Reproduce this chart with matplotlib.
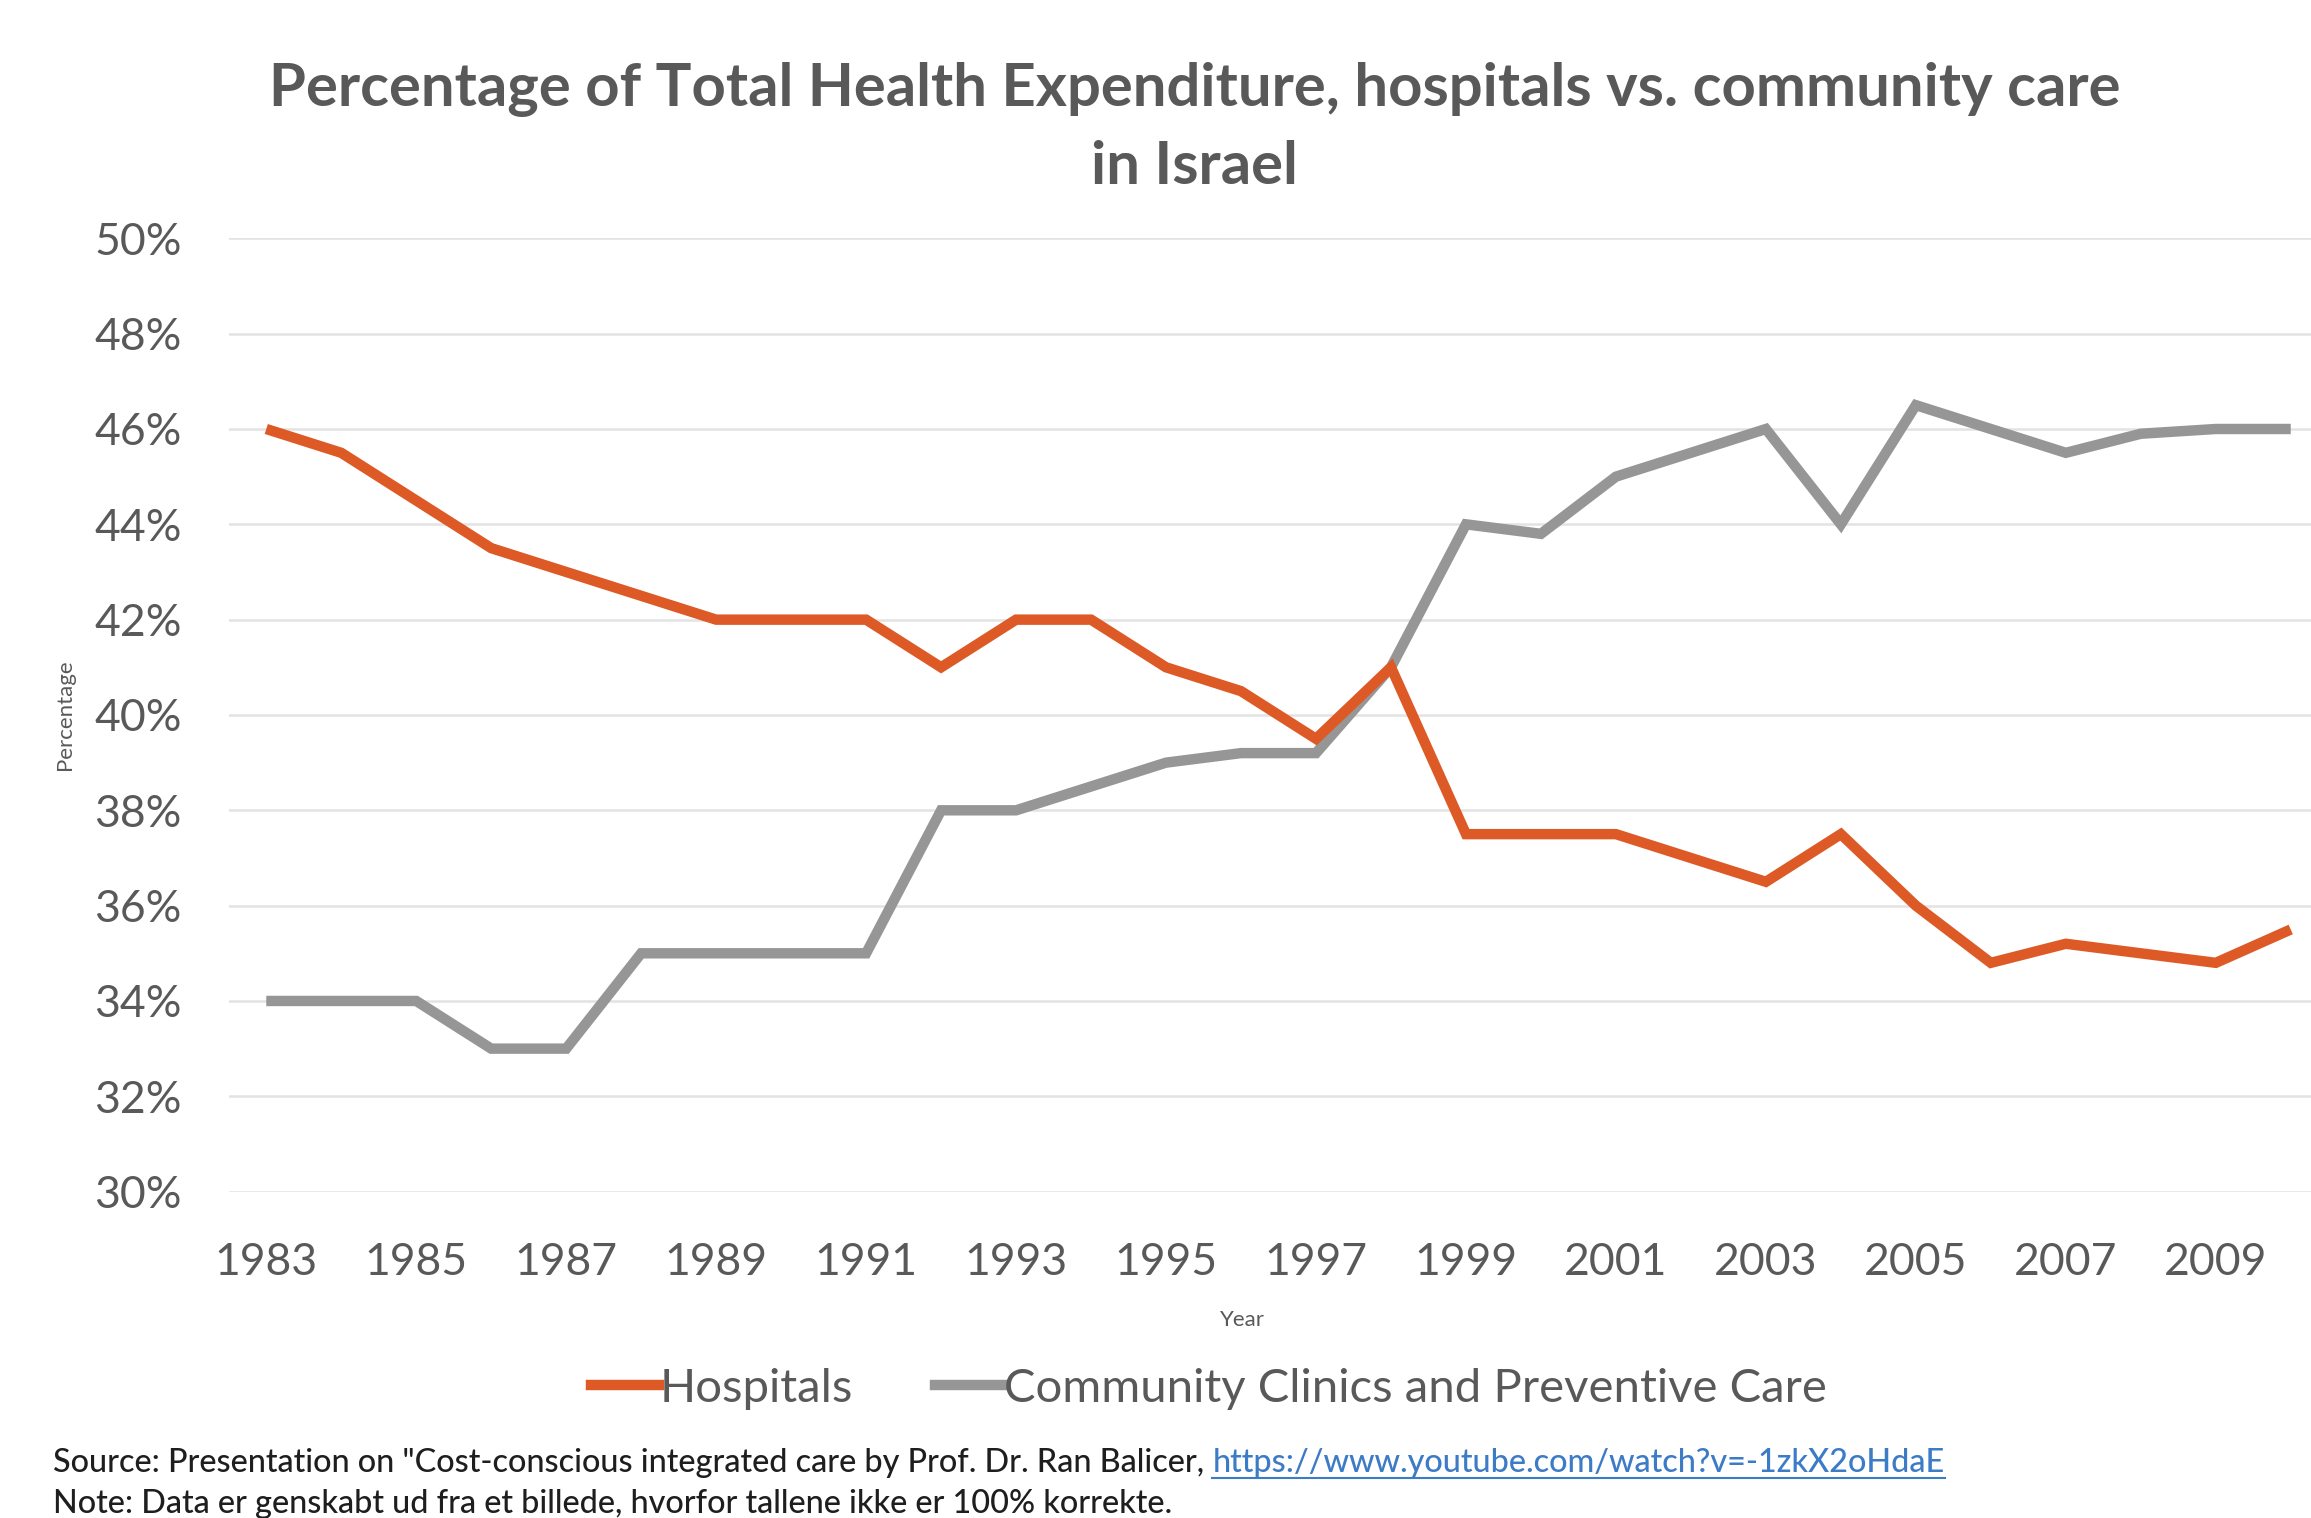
import numpy as np
from matplotlib import pyplot as plt
from matplotlib.ticker import PercentFormatter
from matplotlib.lines import Line2D

years = list(range(1983, 2011))
hospitals = [46.0, 45.5, 44.5, 43.5, 43.0, 42.5, 42.0, 42.0, 42.0, 41.0,
             42.0, 42.0, 41.0, 40.5, 39.5, 41.0, 37.5, 37.5, 37.5, 37.0,
             36.5, 37.5, 36.0, 34.8, 35.2, 35.0, 34.8, 35.5]
community = [34.0, 34.0, 34.0, 33.0, 33.0, 35.0, 35.0, 35.0, 35.0, 38.0,
             38.0, 38.5, 39.0, 39.2, 39.2, 41.0, 44.0, 43.8, 45.0, 45.5,
             46.0, 44.0, 46.5, 46.0, 45.5, 45.9, 46.0, 46.0]
y_ticks = list(range(30, 52, 2))
x_ticks = list(range(1983, 2011, 2))

text_col = "#595959"
orange = "#DD5A26"
grey = "#969696"
lw = 7.5

plt.rcParams['font.family'] = ['Lato', 'DejaVu Sans']


def main():
    fig = plt.figure(figsize=[23.11, 15.18], dpi=100)
    ax = fig.add_axes([0.099, 0.215, 0.901, 0.628])

    ax.plot(years, hospitals, color=orange, linewidth=lw, solid_joinstyle='miter',
            solid_capstyle='butt', zorder=3)
    ax.plot(years, community, color=grey, linewidth=lw, solid_joinstyle='miter',
            solid_capstyle='butt', zorder=2)

    ax.set_xlim(1982.5, 2010.27)
    ax.set_ylim(30, 50)
    ax.set_yticks(y_ticks)
    ax.set_xticks(x_ticks)
    ax.yaxis.set_major_formatter(PercentFormatter(decimals=0))
    ax.grid(axis='y', color="#E3E3E3", linewidth=1.8)
    ax.set_axisbelow(True)
    for s in ax.spines.values():
        s.set_visible(False)
    ax.tick_params(length=0, labelsize=32, labelcolor=text_col)
    ax.tick_params(axis='y', pad=34)
    ax.tick_params(axis='x', pad=36)

    ax.set_xlabel("Year", fontsize=16, color=text_col)
    ax.xaxis.set_label_coords(0.487, -0.124)
    ax.set_ylabel("Percentage", fontsize=16, color=text_col)
    ax.yaxis.set_label_coords(-0.074, 0.5)

    fig.text(0.517, 0.941, "Percentage of Total Health Expenditure, hospitals vs. community care",
             ha='center', va='center', fontsize=43, fontweight='bold', color=text_col)
    fig.text(0.517, 0.890, "in Israel", ha='center', va='center', fontsize=43,
             fontweight='bold', color=text_col)

    handles = [Line2D([], [], color=orange, linewidth=lw),
               Line2D([], [], color=grey, linewidth=lw)]
    fig.legend(handles, ["Hospitals", "Community Clinics and Preventive Care"],
               loc='center', bbox_to_anchor=(0.523, 0.085), ncol=2, frameon=False,
               fontsize=34, labelcolor=text_col, handlelength=1.45, handletextpad=0.0,
               columnspacing=1.75)

    src = fig.text(0.023, 0.036, "Source: Presentation on \"Cost-conscious integrated care by Prof. Dr. Ran Balicer, ",
                   ha='left', va='center', fontsize=23.3, color="#1E1E1E", fontweight='medium')
    fig.canvas.draw()
    bb = src.get_window_extent()
    x_end = bb.x1 / fig.bbox.width
    url = fig.text(x_end, 0.036, "https://www.youtube.com/watch?v=-1zkX2oHdaE",
                   ha='left', va='center', fontsize=23.3, color="#3C7BC6", fontweight='medium')
    fig.canvas.draw()
    ub = url.get_window_extent()
    fig.add_artist(Line2D([ub.x0 / fig.bbox.width, ub.x1 / fig.bbox.width],
                          [ub.y0 / fig.bbox.height] * 2, color="#3C7BC6", linewidth=1.5))
    fig.text(0.023, 0.009, "Note: Data er genskabt ud fra et billede, hvorfor tallene ikke er 100% korrekte.",
             ha='left', va='center', fontsize=23.3, color="#1E1E1E", fontweight='medium')

    fig.savefig("out.png", dpi=100)


if __name__ == '__main__':
    main()
